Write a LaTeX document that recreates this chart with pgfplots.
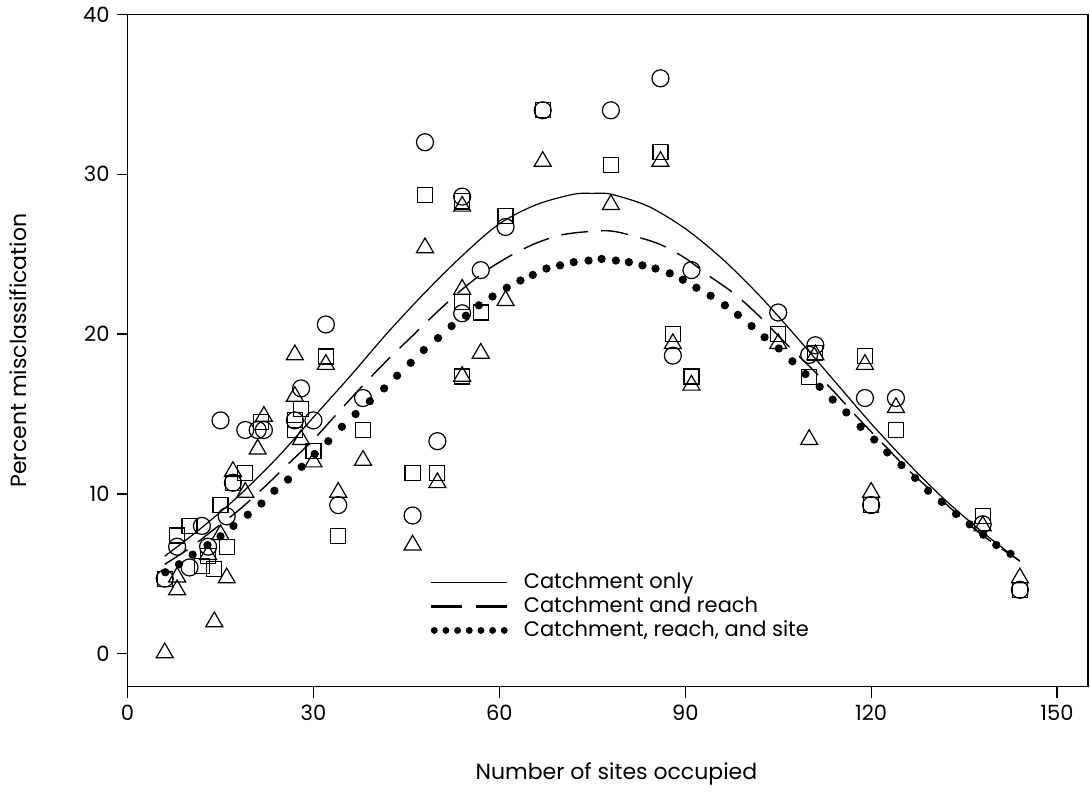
\documentclass[border=0pt]{standalone}
\usepackage{fontspec}
\setmainfont{Poppins}
\usepackage{pgfplots}
\pgfplotsset{compat=1.18}
\begin{document}
\begin{tikzpicture}
\begin{axis}[
  scale only axis,
  width=480pt, height=336pt,
  xmin=0, xmax=155, ymin=-2.06, ymax=40,
  xtick={0,30,60,90,120,150}, ytick={0,10,20,30,40},
  tick pos=left, tick align=outside,
  major tick length=5.5pt,
  tick style={black, line width=0.6pt},
  axis line style={black, line width=0.7pt},
  /pgf/number format/assume math mode=true,
  tick label style={font=\fontsize{10.5}{12}\selectfont},
  xlabel={Number of sites occupied},
  ylabel={Percent misclassification},
  label style={font=\fontsize{11}{13}\selectfont},
  xlabel style={at={(axis description cs:0.509,-0.1295)}, anchor=center},
  ylabel style={at={(axis description cs:-0.114,0.5)}, anchor=center},
  legend cell align=left,
  legend style={draw=none, fill=none, font=\fontsize{10.5}{12}\selectfont,
    at={(axis description cs:0.308,0.1795)}, anchor=north west,
    row sep=0pt, column sep=6.5pt,
    nodes={inner sep=1pt, text height=8pt, text depth=2pt}},
  mark options={solid, line width=0.6pt},
]
% Circles
\addplot[only marks, mark=o, mark size=4.25pt, black, forget plot] coordinates {
(6,4.7) (8,6.7) (10,5.4) (12,8.0) (13,6.7) (15,14.6) (16,8.6) (17,10.7)
(19,14.0) (21,14.0) (22,14.0) (27,14.6) (28,16.6) (30,14.6) (32,20.6)
(34,9.3) (38,16.0) (46,8.65) (48,32.0) (50,13.3) (54,28.6) (54,21.3)
(57,24.0) (61,26.7) (67,34.0) (78,34.0) (86,36.0) (88,18.65) (91,24.0)
(105,21.35) (110,18.7) (111,19.3) (119,16.0) (120,9.3) (124,16.0)
(138,8.1) (144,4.0)
};
% Squares
\addplot[only marks, mark=square, mark size=3.75pt, black, forget plot] coordinates {
(6,4.7) (8,7.4) (10,8.0) (12,5.5) (13,6.1) (14,5.3) (15,9.3) (16,6.7)
(17,10.7) (19,11.3) (21.5,14.5) (27,14.6) (27,14.0) (28,15.3) (30,12.7)
(32,18.6) (34,7.35) (38,14.0) (46,11.3) (48,28.7) (50,11.3) (54,28.3)
(54,22.0) (54,17.35) (57,21.35) (61,27.4) (67,34.0) (78,30.6) (86,31.4)
(88,20.0) (91,17.35) (105,20.0) (110,17.3) (111,18.8) (119,18.65)
(120,9.3) (124,14.0) (138,8.6) (144,4.0)
};
% Triangles
\addplot[only marks, mark=triangle, mark size=4.9pt, black, forget plot] coordinates {
(6,0.06) (8,4.8) (8,4.0) (13,6.2) (14,2.0) (15,7.45) (16,4.75) (17,11.4)
(19,10.1) (21,12.8) (22,14.85) (27,18.7) (27,16.1) (28,13.4) (30,12.0)
(32,18.1) (34,10.1) (38,12.1) (46,6.8) (48,25.4) (50,10.7) (54,28.0)
(54,22.8) (54,17.35) (57,18.8) (61,22.1) (67,30.8) (78,28.1) (86,30.8)
(88,19.4) (91,16.8) (105,19.4) (110,13.4) (111,18.7) (119,18.1)
(120,10.1) (124,15.4) (138,8.0) (144,4.75)
};
% Catchment only
\addplot[black, line width=0.6pt, smooth, no marks,
  legend image code/.code={\draw[black, line width=0.6pt] (0pt,0pt) -- (38pt,0pt);}]
coordinates {
(6,6.1) (12,7.9) (18,9.9) (24,12.2) (30,14.8) (36,17.4) (42,20.1) (48,22.6)
(54,24.9) (60,26.9) (66,28.1) (72,28.75) (75,28.8) (78,28.75) (84,28.0)
(90,26.6) (96,24.7) (102,22.4) (108,19.8) (114,17.1) (120,14.4) (126,11.9)
(132,9.6) (138,7.6) (144,5.8)
};
\addlegendentry{Catchment only}
% Catchment and reach
\addplot[black, line width=0.7pt, smooth, no marks, dash pattern=on 13.5pt off 6.5pt,
  legend image code/.code={\draw[black, line width=1.5pt, dash pattern=on 15.5pt off 7pt] (0pt,0pt) -- (38pt,0pt);}]
coordinates {
(6,5.6) (10,6.6) (14,7.8) (18,9.0) (22,10.4) (26,11.9) (30,13.4) (34,15.1)
(38,16.8) (42,18.4) (46,19.9) (50,21.4) (54,22.8) (58,24.0) (62,24.95)
(66,25.7) (70,26.2) (74,26.4) (78,26.45) (82,26.1) (86,25.6) (90,24.75)
(94,23.6) (98,22.5) (102,21.1) (106,19.5) (110,18.0) (114,16.4) (118,14.7)
(122,13.1) (126,11.5) (130,10.1) (134,8.7) (138,7.4) (144,5.8)
};
\addlegendentry{Catchment and reach}
% Catchment, reach, and site
\addplot[black, only marks, mark=*, mark size=1.75pt,
  legend image code/.code={\foreach \i in {0,1,2,3,4,5,6} {\fill[black] (1.5pt+\i*5.83pt,0pt) circle (1.5pt);}}]
coordinates {
(6.1,5.1) (8.3,5.6) (10.5,6.2) (12.9,6.8) (15.0,7.35) (17.1,8.0) (19.4,8.7)
(21.6,9.4) (23.7,10.2) (25.9,10.9) (28.1,11.7) (30.2,12.5) (32.4,13.3)
(34.6,14.2) (36.8,15.0) (39.1,15.8) (41.4,16.6) (43.5,17.4) (45.7,18.2)
(47.8,19.0) (50.1,19.75) (52.3,20.5) (54.6,21.15) (56.7,21.8) (58.9,22.35)
(61.2,22.9) (63.4,23.35) (65.4,23.7) (67.6,24.1) (69.8,24.3) (72.0,24.5)
(74.4,24.6) (76.5,24.7) (78.8,24.6) (80.9,24.5) (83.1,24.3) (85.2,24.1)
(87.5,23.8) (89.6,23.4) (91.8,22.9) (94.1,22.4) (96.4,21.8) (98.5,21.2)
(100.7,20.5) (102.8,19.8) (105.1,19.1) (107.3,18.3) (109.4,17.5)
(111.7,16.7) (113.8,15.9) (116.0,15.1) (118.3,14.2) (120.5,13.4)
(122.6,12.6) (124.9,11.8) (127.1,11.0) (129.2,10.2) (131.4,9.5)
(133.7,8.75) (135.9,8.1) (138.1,7.45) (140.2,6.8) (142.5,6.25)
};
\addlegendentry{Catchment, reach, and site}
\end{axis}
\path ([xshift=-63.75pt,yshift=-50pt]current axis.south west) rectangle ([xshift=1pt,yshift=6pt]current axis.north east);
\end{tikzpicture}
\end{document}
